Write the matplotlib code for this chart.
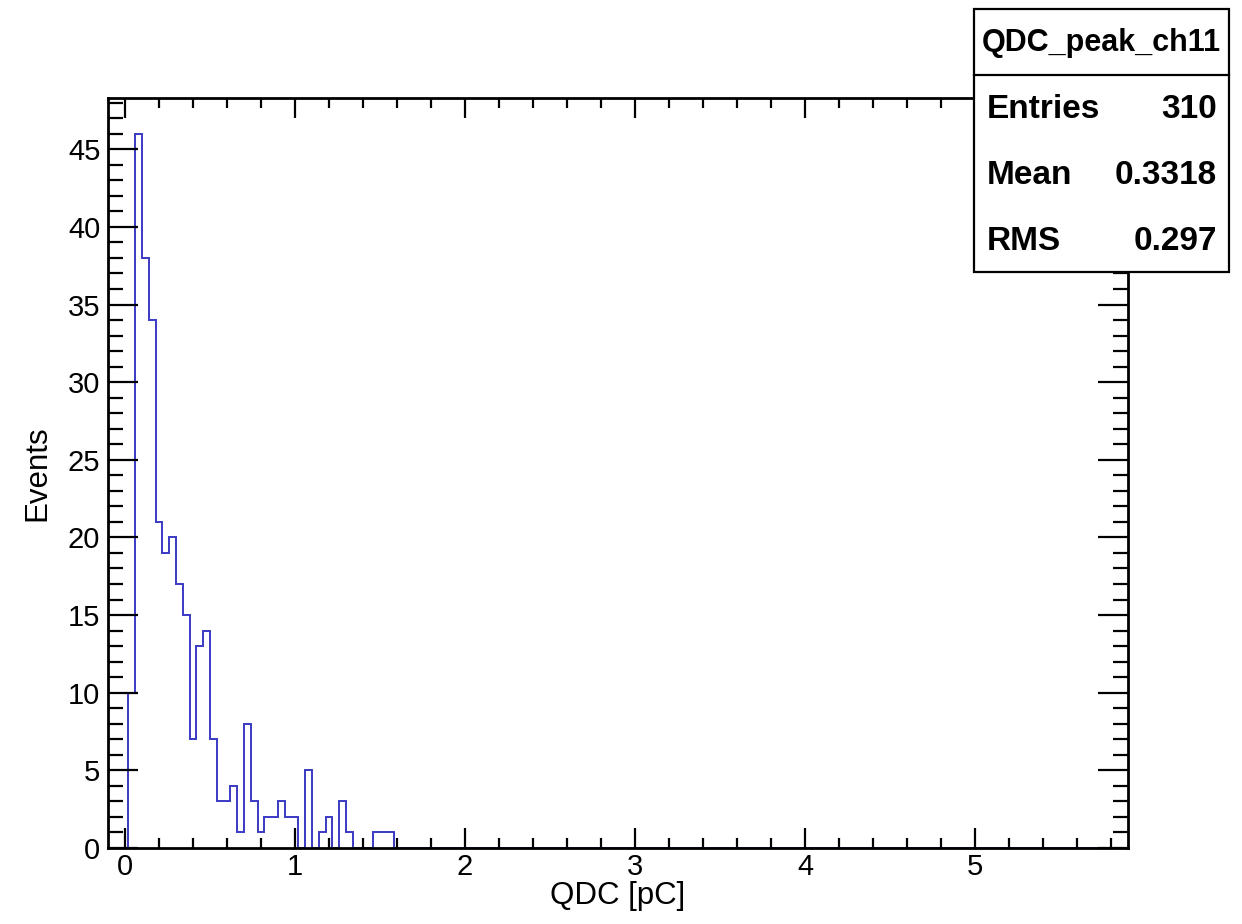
import numpy as np
import matplotlib
matplotlib.use("Agg")
import matplotlib.pyplot as plt
from matplotlib.patches import Rectangle
from matplotlib.lines import Line2D
from matplotlib.ticker import MultipleLocator

plt.rcParams['font.family'] = ['Liberation Sans', 'DejaVu Sans']

# Histogram definition: 150 bins from -0.1 to 5.9 (bin width 0.04)
x_min, x_max, n_bins = -0.1, 5.9, 150
first_bin = 3  # bin starting at 0.02
counts = [10, 46, 38, 34, 21, 19, 20, 17, 15, 7, 13, 14, 7, 3, 3, 4, 1, 8, 3, 1,
          2, 2, 3, 2, 2, 0, 5, 0, 1, 2, 0, 3, 1, 0, 0, 0, 1, 1, 1]

hist_name = "QDC_peak_ch11"
stat_labels = ["Entries", "Mean", "RMS"]
stat_values = ["310", "0.3318", "0.297"]
x_title = "QDC [pC]"
y_title = "Events"

edges = np.linspace(x_min, x_max, n_bins + 1)
values = np.zeros(n_bins)
values[first_bin:first_bin + len(counts)] = counts

W, H = 1242, 924
fig = plt.figure(figsize=(W / 100, H / 100), dpi=100)
ax = fig.add_axes([108 / W, (H - 848) / H, 1020 / W, 750 / H])

ax.stairs(values, edges, color='#3a3ac4', linewidth=1.4, baseline=0)

ax.set_xlim(x_min, x_max)
ax.set_ylim(0, 1.05 * max(counts))

ax.xaxis.set_major_locator(MultipleLocator(1))
ax.xaxis.set_minor_locator(MultipleLocator(0.2))
ax.yaxis.set_major_locator(MultipleLocator(5))
ax.yaxis.set_minor_locator(MultipleLocator(1))

ax.tick_params(axis='both', which='both', direction='in', top=True, right=True,
               width=1.6, color='black')
ax.tick_params(axis='x', which='major', length=14.4, pad=3.5, labelsize=21)
ax.tick_params(axis='x', which='minor', length=7.2)
ax.tick_params(axis='y', which='major', length=21.6, pad=5.5, labelsize=21)
ax.tick_params(axis='y', which='minor', length=10.8)
for s in ax.spines.values():
    s.set_linewidth(2.0)

ax.set_xlabel(x_title, fontsize=22.5)
ax.xaxis.set_label_coords(0.5, (848 - 896) / 750)
ax.xaxis.label.set_va('center')
ax.set_ylabel(y_title, fontsize=22.5)
ax.yaxis.set_label_coords((37.5 - 108) / 1020, 0.5)
ax.yaxis.label.set_va('center')
ax.yaxis.label.set_rotation_mode('default')

# Stats box (figure pixel coordinates converted to fractions)
bx0, bx1, by0, by1, ydiv = 974, 1229, 9, 272, 75
fig.add_artist(Rectangle((bx0 / W, 1 - by1 / H), (bx1 - bx0) / W, (by1 - by0) / H,
                         transform=fig.transFigure, facecolor='white',
                         edgecolor='black', linewidth=1.6, zorder=10))
fig.add_artist(Line2D([bx0 / W, bx1 / W], [1 - ydiv / H, 1 - ydiv / H],
                      transform=fig.transFigure, color='black', linewidth=1.6, zorder=11))
fig.text((bx0 + bx1) / 2 / W, 1 - 43 / H, hist_name, ha='center', va='center',
         fontsize=22, fontweight='bold', zorder=12)
rows_y = [110, 175, 241]
for lab, val, yy in zip(stat_labels, stat_values, rows_y):
    fig.text(987 / W, 1 - yy / H, lab, ha='left', va='center', fontsize=24,
             fontweight='bold', zorder=12)
    fig.text(1217 / W, 1 - yy / H, val, ha='right', va='center', fontsize=24,
             fontweight='bold', zorder=12)

fig.savefig("out.png", dpi=100, facecolor='white')
